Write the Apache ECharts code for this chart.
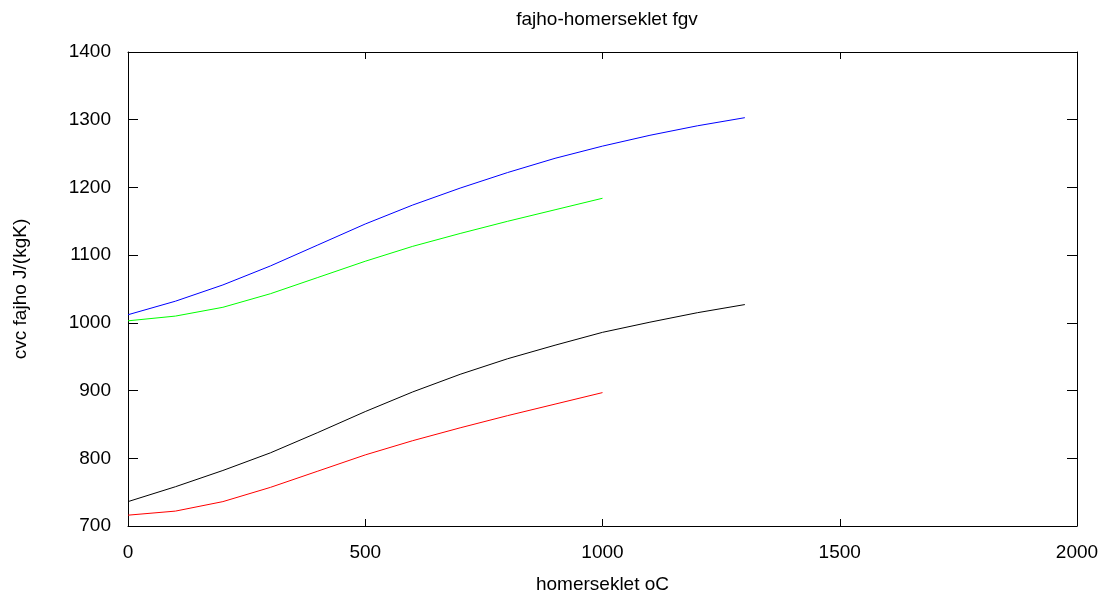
<!DOCTYPE html>
<html>
<head>
<meta charset="utf-8">
<script src="https://cdn.jsdelivr.net/npm/echarts@6/dist/echarts.min.js"></script>
<style>
html,body{margin:0;padding:0;background:#fff;}
#chart{width:1105px;height:601px;}
</style>
</head>
<body>
<div id="chart"></div>
<script>
// temperatures (oC)
const tempsLong = [0,100,200,300,400,500,600,700,800,900,1000,1100,1200,1300];
const tempsShort = [0,100,200,300,400,500,600,700,800,900,1000];
// series values J/(kgK)
const blueValues  = [1012,1032,1056,1084,1115,1146,1174,1199,1222,1243,1261,1277,1291,1303];
const greenValues = [1003,1010,1023,1043,1067,1091,1113,1132,1150,1167,1184];
const blackValues = [736,758,782,808,838,869,898,924,947,967,986,1001,1015,1027];
const redValues   = [716,722,736,757,781,805,826,845,863,880,897];

const xTicks = [0,500,1000,1500,2000];
const yTicks = [700,800,900,1000,1100,1200,1300,1400];

function pairs(xs, ys){ return xs.map((x,i)=>[x, ys[i]]); }

const FONT = 'Liberation Sans, Arial, sans-serif';
const chart = echarts.init(document.getElementById('chart'), null, {renderer:'canvas'});

const axisLineStyle = {color:'#000', width:1};
function lineSeries(name, data, color){
  return {name:name, type:'line', data:data, xAxisIndex:0, yAxisIndex:0,
    showSymbol:false, symbol:'none', smooth:false,
    lineStyle:{color:color, width:1}, itemStyle:{color:color}, animation:false};
}

chart.setOption({
  animation:false,
  backgroundColor:'#fff',
  title:{text:'fajho-homerseklet fgv', left:602, top:5, textAlign:'center',
    textStyle:{fontFamily:FONT, fontSize:19, fontWeight:'normal', color:'#000'}},
  grid:{left:128, right:28, top:52, bottom:75, containLabel:false},
  xAxis:[
    {type:'value', min:xTicks[0], max:xTicks[xTicks.length-1], interval:500, position:'bottom',
     name:'homerseklet oC', nameLocation:'middle', nameGap:49,
     nameTextStyle:{fontFamily:FONT, fontSize:19, color:'#000'},
     axisLine:{show:true, onZero:false, lineStyle:axisLineStyle},
     axisTick:{show:true, inside:true, length:7, lineStyle:axisLineStyle},
     axisLabel:{fontFamily:FONT, fontSize:19, color:'#000', margin:17, formatter:v=>String(v)},
     splitLine:{show:false}},
    {type:'value', min:xTicks[0], max:xTicks[xTicks.length-1], interval:500, position:'top',
     axisLine:{show:true, onZero:false, lineStyle:axisLineStyle},
     axisTick:{show:true, inside:true, length:7, lineStyle:axisLineStyle},
     axisLabel:{show:false}, splitLine:{show:false}}
  ],
  yAxis:[
    {type:'value', min:yTicks[0], max:yTicks[yTicks.length-1], interval:100, position:'left',
     name:'cvc fajho J/(kgK)', nameLocation:'middle', nameGap:98,
     nameTextStyle:{fontFamily:FONT, fontSize:19, color:'#000'},
     axisLine:{show:true, onZero:false, lineStyle:axisLineStyle},
     axisTick:{show:true, inside:true, length:10, lineStyle:axisLineStyle},
     axisLabel:{fontFamily:FONT, fontSize:19, color:'#000', margin:17, formatter:v=>String(v)},
     splitLine:{show:false}},
    {type:'value', min:yTicks[0], max:yTicks[yTicks.length-1], interval:100, position:'right',
     axisLine:{show:true, onZero:false, lineStyle:axisLineStyle},
     axisTick:{show:true, inside:true, length:10, lineStyle:axisLineStyle},
     axisLabel:{show:false}, splitLine:{show:false}}
  ],
  series:[
    lineSeries('blue', pairs(tempsLong, blueValues), '#0000ff'),
    lineSeries('green', pairs(tempsShort, greenValues), '#00ff00'),
    lineSeries('black', pairs(tempsLong, blackValues), '#000000'),
    lineSeries('red', pairs(tempsShort, redValues), '#ff0000')
  ]
});
</script>
</body>
</html>
